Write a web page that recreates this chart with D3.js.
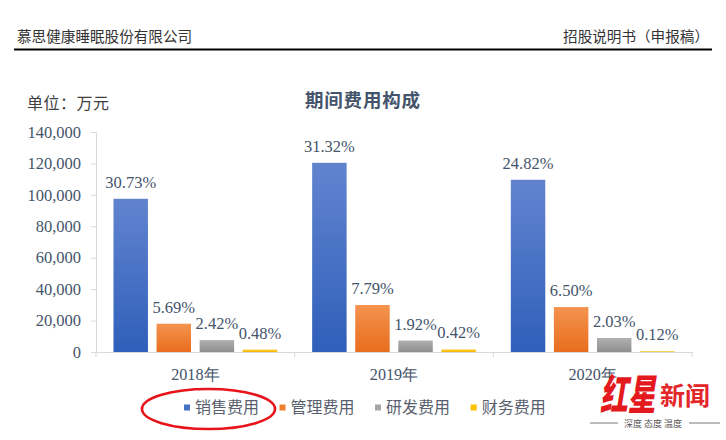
<!DOCTYPE html>
<html>
<head>
<meta charset="utf-8">
<script src="https://cdn.jsdelivr.net/npm/d3@7/dist/d3.min.js"></script>
<style>
  html, body { margin: 0; padding: 0; background: #fff; }
  svg { display: block; }
</style>
</head>
<body>
<svg id="chart" width="726" height="440"></svg>
<script>
// ---- data (万元) ----
const years = ["2018年", "2019年", "2020年"];
const seriesNames = ["销售费用", "管理费用", "研发费用", "财务费用"];
const sales   = [97500, 120400, 109600];
const admin   = [18000, 29900, 28600];
const rnd     = [7600, 7300, 8900];
const finance = [1500, 1600, 500];
const salesPct   = ["30.73%", "31.32%", "24.82%"];
const adminPct   = ["5.69%", "7.79%", "6.50%"];
const rndPct     = ["2.42%", "1.92%", "2.03%"];
const financePct = ["0.48%", "0.42%", "0.12%"];
const yTicks = [0, 20000, 40000, 60000, 80000, 100000, 120000, 140000];

const seriesValues = [sales, admin, rnd, finance];
const seriesPcts = [salesPct, adminPct, rndPct, financePct];
const colors = ["#4472c4", "#ed7d31", "#a5a5a5", "#ffc000"];
const gradStops = [["#6284cf", "#2f5fba"], ["#f4934f", "#e86d1d"], ["#b0b0b0", "#8e8e8e"], ["#ffcb2e", "#f5b800"]];

const svg = d3.select("#chart");
const serif = "'Liberation Serif', 'Times New Roman', serif";
const cjk = "'Noto Sans CJK SC', sans-serif";
const textCol = "#44546a";

// gradients
const defs = svg.append("defs");
gradStops.forEach((s, i) => {
  const g = defs.append("linearGradient").attr("id", "g" + i)
    .attr("x1", 0).attr("y1", 0).attr("x2", 0).attr("y2", 1);
  g.append("stop").attr("offset", "0%").attr("stop-color", s[0]);
  g.append("stop").attr("offset", "100%").attr("stop-color", s[1]);
});

// ---- header ----
svg.append("text").attr("x", 17).attr("y", 42).attr("font-family", cjk).attr("font-size", 14.6)
  .attr("fill", "#333").text("慕思健康睡眠股份有限公司");
svg.append("text").attr("x", 709).attr("y", 42).attr("text-anchor", "end").attr("font-family", cjk)
  .attr("font-size", 14.6).attr("fill", "#333").text("招股说明书（申报稿）");
svg.append("line").attr("x1", 14).attr("x2", 712).attr("y1", 49.5).attr("y2", 49.5)
  .attr("stroke", "#000").attr("stroke-width", 2.2);

// ---- title & unit ----
svg.append("text").attr("x", 305).attr("y", 107).attr("font-family", cjk).attr("font-size", 18.5)
  .attr("font-weight", "bold").attr("letter-spacing", 0.8).attr("fill", textCol).text("期间费用构成");
svg.append("text").attr("x", 27).attr("y", 109).attr("font-family", cjk).attr("font-size", 16)
  .attr("fill", "#404040").attr("letter-spacing", 0.5).text("单位：万元");

// ---- scales ----
const x0 = d3.scaleBand().domain(years).range([96, 692]).padding(0);
const x1 = d3.scaleBand().domain(seriesNames).range([0, x0.bandwidth()])
  .paddingInner(0.2).paddingOuter(0.406);
const y = d3.scaleLinear().domain([0, 140000]).range([352, 132]);

// ---- y axis ----
const yAxis = svg.append("g").attr("transform", "translate(96,0)")
  .call(d3.axisLeft(y).tickValues(yTicks).tickSize(5).tickSizeOuter(0).tickPadding(10)
    .tickFormat(d3.format(",")));
yAxis.select(".domain").attr("stroke", "#d9d9d9");
yAxis.selectAll(".tick line").attr("stroke", "#d9d9d9");
yAxis.selectAll(".tick text").attr("font-family", serif).attr("font-size", 16.5).attr("fill", textCol);

// ---- x axis ----
const xAxis = svg.append("g").attr("transform", "translate(0,352)")
  .call(d3.axisBottom(x0).tickSize(0).tickPadding(16.6));
xAxis.select(".domain").attr("stroke", "#d9d9d9");
xAxis.selectAll(".tick text").attr("font-family", serif).attr("font-size", 16.2).attr("fill", textCol);
// category boundary ticks
const bounds = years.map(d => x0(d)).concat([x0(years[years.length - 1]) + x0.bandwidth()]);
svg.append("g").selectAll("line").data(bounds).join("line")
  .attr("x1", d => d).attr("x2", d => d).attr("y1", 352).attr("y2", 357)
  .attr("stroke", "#d9d9d9");

// ---- bars ----
const groups = svg.append("g").selectAll("g").data(years).join("g")
  .attr("transform", d => `translate(${x0(d)},0)`);
groups.each(function(yr, yi) {
  const g = d3.select(this);
  seriesNames.forEach((s, si) => {
    const v = seriesValues[si][yi];
    g.append("rect").attr("x", x1(s)).attr("width", x1.bandwidth())
      .attr("y", y(v)).attr("height", y(0) - y(v))
      .attr("fill", `url(#g${si})`);
    g.append("text").attr("x", x1(s) + x1.bandwidth() / 2).attr("y", y(v) - 11)
      .attr("text-anchor", "middle").attr("font-family", serif).attr("font-size", 16.5)
      .attr("fill", textCol).text(seriesPcts[si][yi]);
  });
});

// ---- legend ----
const legendX = [184, 279.5, 375, 470.7];
const leg = svg.append("g").selectAll("g").data(seriesNames).join("g")
  .attr("transform", (d, i) => `translate(${legendX[i]},407.5)`);
leg.append("rect").attr("x", 0).attr("y", -3).attr("width", 6).attr("height", 6)
  .attr("fill", (d, i) => colors[i]);
leg.append("text").attr("x", 11).attr("y", 0).attr("dy", "0.36em").attr("font-family", cjk)
  .attr("font-size", 16).attr("fill", "#595f6e").text(d => d);

// ---- annotation ellipse ----
svg.append("ellipse").attr("cx", 208.5).attr("cy", 409).attr("rx", 66.5).attr("ry", 20)
  .attr("fill", "none").attr("stroke", "#e8141b").attr("stroke-width", 2.6);

// ---- watermark ----
const wm = svg.append("g");
wm.append("g").attr("transform", "translate(600,410) scale(0.66,1)")
  .append("text").attr("x", 0).attr("y", 0).attr("font-family", cjk).attr("font-weight", 900)
  .attr("font-size", 42).attr("font-style", "italic").attr("fill", "#e3191e")
  .text("红星");
wm.append("text").attr("x", 660).attr("y", 405).attr("font-family", cjk).attr("font-weight", "bold")
  .attr("font-size", 25).attr("fill", "#e3262a").text("新闻");
wm.append("text").attr("x", 653).attr("y", 427).attr("text-anchor", "middle").attr("font-family", cjk)
  .attr("font-size", 9).attr("fill", "#555").text("深度 态度 温度");
wm.append("line").attr("x1", 590).attr("x2", 618).attr("y1", 423).attr("y2", 423).attr("stroke", "#555").attr("stroke-width", 0.8);
wm.append("line").attr("x1", 689).attr("x2", 720).attr("y1", 423).attr("y2", 423).attr("stroke", "#555").attr("stroke-width", 0.8);
</script>
</body>
</html>
